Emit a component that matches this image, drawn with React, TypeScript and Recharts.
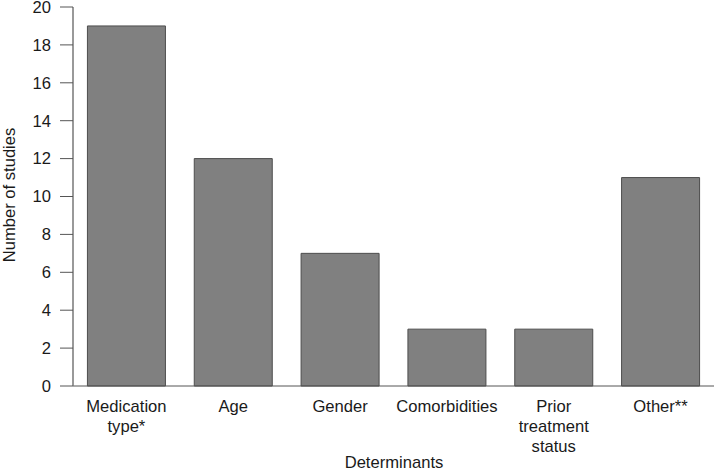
import React from 'react';
import { BarChart, Bar, XAxis, YAxis, Label } from 'recharts';

const categories = ['Medication\ntype*', 'Age', 'Gender', 'Comorbidities', 'Prior\ntreatment\nstatus', 'Other**'];
const studyCounts = [19, 12, 7, 3, 3, 11];
const yTicks = [0, 2, 4, 6, 8, 10, 12, 14, 16, 18, 20];

const data = categories.map((c, i) => ({ name: c, value: studyCounts[i] }));

const FONT = 'Liberation Sans, Arial, sans-serif';
const FS = 16.6;

const XTick = (props: any) => {
  const { x, y, payload } = props;
  const lines = String(payload.value).split('\n');
  return (
    <text x={x} y={y} textAnchor="middle" fontFamily={FONT} fontSize={FS} fill="#1a1a1a">
      {lines.map((l, i) => (
        <tspan key={i} x={x} dy={i === 0 ? 25.5 : 20}>{l}</tspan>
      ))}
    </text>
  );
};

export default function App() {
  return (
    <div style={{ position: 'absolute', left: 0, top: 0 }}>
      <BarChart
        width={714}
        height={472}
        data={data}
        margin={{ top: 7, right: 0, bottom: 0, left: 0 }}
        barCategoryGap="13.5%"
      >
        <XAxis
          dataKey="name"
          interval={0}
          tickLine={false}
          tickSize={0}
          tickMargin={0}
          tick={<XTick />}
          axisLine={{ stroke: '#555', strokeWidth: 1 }}
          height={86}
        >
          <Label
            content={() => (
              <text x={394} y={467.5} textAnchor="middle" fontFamily={FONT} fontSize={FS} fill="#1a1a1a">
                Determinants
              </text>
            )}
          />
        </XAxis>
        <YAxis
          width={73}
          domain={[0, 20]}
          ticks={yTicks}
          interval={0}
          tickSize={13}
          tickMargin={9}
          tickLine={{ stroke: '#555' }}
          axisLine={{ stroke: '#777', strokeWidth: 1.5 }}
          tick={{ fontFamily: FONT, fontSize: FS, fill: '#1a1a1a' }}
        >
          <Label
            content={() => (
              <text
                x={14.5}
                y={195}
                transform="rotate(-90 14.5 195)"
                textAnchor="middle"
                fontFamily={FONT}
                fontSize={FS}
                fill="#1a1a1a"
              >
                Number of studies
              </text>
            )}
          />
        </YAxis>
        <Bar dataKey="value" fill="#808080" stroke="#4d4d4d" strokeWidth={1} isAnimationActive={false} />
      </BarChart>
    </div>
  );
}
